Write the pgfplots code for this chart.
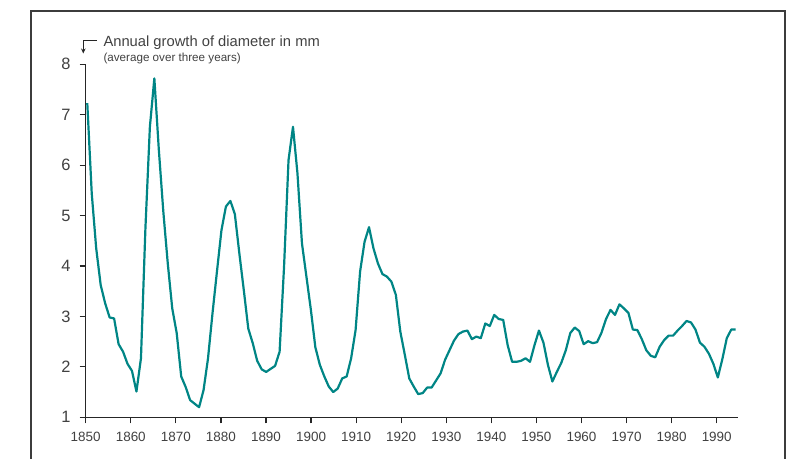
\documentclass[border=0pt]{standalone}
\usepackage{fontspec}
\setmainfont{Liberation Sans}
\usepackage{pgfplots}
\pgfplotsset{compat=1.18}
\usetikzlibrary{arrows.meta}
\definecolor{lineteal}{RGB}{0,133,133}
\definecolor{txt}{RGB}{65,65,65}
\definecolor{frame}{RGB}{60,60,60}
\begin{document}
\begin{tikzpicture}[x=1bp,y=1bp]
\useasboundingbox (0,0) rectangle (795,459);
\draw[line width=1.6bp, frame] (31,0) -- (31,448) -- (785,448) -- (785,0);
\begin{axis}[
  at={(85.7bp,41.7bp)}, anchor=south west,
  scale only axis, width=652bp, height=353bp,
  xmin=1850, xmax=1994.66, ymin=1, ymax=8,
  axis x line=bottom, axis y line=left,
  axis line style={-, line width=1.2bp, black!85},
  tick style={line width=1.2bp, black!85},
  tick align=outside, major tick length=6bp,
  xtick={1850,1860,...,1990}, ytick={1,2,...,8},
  /pgf/number format/assume math mode=true,
  /pgf/number format/1000 sep={},
  xticklabel style={font=\fontsize{13.5}{15}\selectfont, text=txt, inner sep=0pt, anchor=north, yshift=-9bp},
  yticklabel style={font=\fontsize{16.5}{18}\selectfont, text=txt, inner sep=0pt, anchor=east, xshift=-9bp},
  clip=false,
]
\addplot[lineteal, line width=2.2bp, line join=round] coordinates {
(1850.35,7.23) (1851.34,5.44) (1852.33,4.35) (1853.33,3.62) (1854.32,3.26)
(1855.31,2.98) (1856.30,2.96) (1857.30,2.45) (1858.29,2.30) (1859.28,2.06)
(1860.27,1.92) (1861.26,1.51) (1862.26,2.17) (1863.25,4.75) (1864.24,6.76)
(1865.23,7.72) (1866.23,6.30) (1867.22,5.08) (1868.21,4.05) (1869.20,3.16)
(1870.19,2.67) (1871.19,1.81) (1872.18,1.60) (1873.17,1.34) (1874.16,1.27)
(1875.16,1.20) (1876.15,1.54) (1877.14,2.17) (1878.13,3.06) (1879.12,3.89)
(1880.12,4.71) (1881.11,5.18) (1882.10,5.29) (1883.09,5.03) (1884.09,4.25)
(1885.08,3.52) (1886.07,2.76) (1887.06,2.47) (1888.05,2.12) (1889.05,1.95)
(1890.04,1.90) (1891.03,1.96) (1892.02,2.02) (1893.02,2.30) (1894.01,3.99)
(1895.00,6.10) (1895.99,6.76) (1896.98,5.84) (1897.98,4.45) (1898.97,3.79)
(1899.96,3.13) (1900.95,2.39) (1901.95,2.04) (1902.94,1.81) (1903.93,1.61)
(1904.92,1.50) (1905.91,1.57) (1906.91,1.77) (1907.90,1.81) (1908.89,2.17)
(1909.88,2.73) (1910.88,3.89) (1911.87,4.48) (1912.86,4.77) (1913.85,4.35)
(1914.84,4.05) (1915.84,3.84) (1916.83,3.79) (1917.82,3.69) (1918.81,3.43)
(1919.80,2.70) (1920.80,2.24) (1921.79,1.77) (1922.78,1.61) (1923.77,1.46)
(1924.77,1.48) (1925.76,1.59) (1926.75,1.59) (1927.74,1.73) (1928.73,1.87)
(1929.73,2.14) (1930.72,2.33) (1931.71,2.52) (1932.70,2.65) (1933.70,2.70)
(1934.69,2.72) (1935.68,2.55) (1936.67,2.60) (1937.66,2.57) (1938.66,2.86)
(1939.65,2.81) (1940.64,3.03) (1941.63,2.95) (1942.63,2.93) (1943.62,2.43)
(1944.61,2.10) (1945.60,2.10) (1946.59,2.12) (1947.59,2.17) (1948.58,2.10)
(1949.57,2.43) (1950.56,2.72) (1951.56,2.48) (1952.55,2.04) (1953.54,1.71)
(1954.53,1.90) (1955.52,2.08) (1956.52,2.33) (1957.51,2.67) (1958.50,2.78)
(1959.49,2.71) (1960.48,2.45) (1961.48,2.51) (1962.47,2.47) (1963.46,2.49)
(1964.45,2.68) (1965.45,2.95) (1966.44,3.13) (1967.43,3.03) (1968.42,3.24)
(1969.41,3.16) (1970.41,3.07) (1971.40,2.74) (1972.39,2.73) (1973.38,2.55)
(1974.38,2.33) (1975.37,2.22) (1976.36,2.19) (1977.35,2.40) (1978.34,2.53)
(1979.34,2.62) (1980.33,2.62) (1981.32,2.72) (1982.31,2.81) (1983.31,2.91)
(1984.30,2.88) (1985.29,2.74) (1986.28,2.48) (1987.27,2.40) (1988.27,2.26)
(1989.26,2.06) (1990.25,1.79) (1991.24,2.15) (1992.24,2.57) (1993.23,2.74)
(1994.22,2.74)
};
\end{axis}
\draw[line width=1.1bp, black!85, -{Stealth[length=5bp,width=4.5bp]}] (96.7,418.3) -- (83.3,418.3) -- (83.3,405.5);
\node[anchor=base west, inner sep=0pt, text=txt, font=\fontsize{14.8}{17}\selectfont] at (103.3,412.3) {Annual growth of diameter in mm};
\node[anchor=base west, inner sep=0pt, text=txt, font=\fontsize{11.7}{13}\selectfont] at (103.3,397.0) {(average over three years)};
\end{tikzpicture}
\end{document}
